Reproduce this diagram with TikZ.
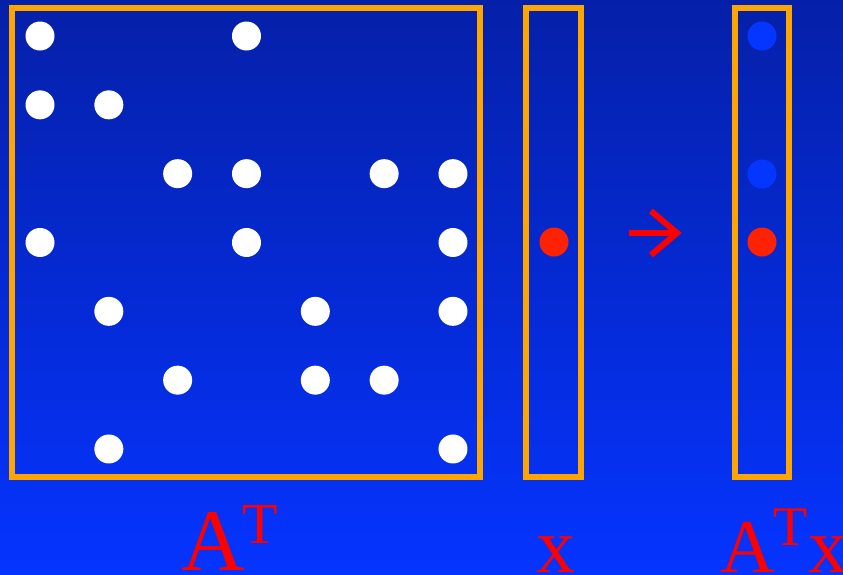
\documentclass[tikz,border=0pt]{standalone}
\usepackage{fontspec}
\setmainfont{Liberation Serif}
\definecolor{bgtop}{RGB}{5,32,168}
\definecolor{bgbot}{RGB}{5,52,255}
\definecolor{boxor}{RGB}{255,165,0}
\definecolor{dotred}{RGB}{255,34,0}
\definecolor{dotblue}{RGB}{5,54,255}
\definecolor{lblred}{RGB}{255,0,0}
\begin{document}
\begin{tikzpicture}[x=1pt,y=-1pt,
  frame/.style={draw=boxor,line width=6pt},
  wdot/.style={circle,fill=white,inner sep=0pt,minimum size=29pt},
  rdot/.style={circle,fill=dotred,inner sep=0pt,minimum size=29pt},
  bdot/.style={circle,fill=dotblue,inner sep=0pt,minimum size=29pt},
  lbl/.style={text=lblred,inner sep=0pt,anchor=base west},
  arr/.style={draw=lblred,line width=6pt}]
\shade[top color=bgtop,bottom color=bgbot] (0,0) rectangle (843,574);
\useasboundingbox (0,0) rectangle (843,574);
% frames
\node[frame,minimum width=468pt,minimum height=469pt,inner sep=0pt] (AT) at (246,242.5) {};
\node[frame,minimum width=55pt,minimum height=469pt,inner sep=0pt] (X) at (553.5,242.5) {};
\node[frame,minimum width=54pt,minimum height=469pt,inner sep=0pt] (ATX) at (762,242.5) {};
% matrix dots
\foreach \r/\c in {1/1,1/4,2/1,2/2,3/3,3/4,3/6,3/7,4/1,4/4,4/7,5/2,5/5,5/7,6/3,6/5,6/6,7/2,7/7}
  \node[wdot] (m\r\c) at ({40+68.83*(\c-1)},{36+68.83*(\r-1)}) {};
% vector x
\node[rdot] (x4) at (554,242) {};
% result
\node[bdot] (y1) at (762,36) {};
\node[bdot] (y3) at (762,174) {};
\node[rdot] (y4) at (762,242) {};
% arrow
\coordinate (aS) at (629,233);
\coordinate (aE) at (677,233);
\coordinate (aU) at (651,211);
\coordinate (aD) at (651,255);
\draw[arr] (aS) -- (aE);
\draw[arr,line join=miter] (aU) -- (aE) -- (aD);
% labels
\node[lbl,font=\fontsize{88}{88}\selectfont] (lA) at (181,570) {A};
\node[lbl,font=\fontsize{58}{58}\selectfont] (lT) at (242,543) {T};
\node[lbl,font=\fontsize{78}{78}\selectfont] (lx) at (536,572) {x};
\node[lbl,font=\fontsize{76}{76}\selectfont] (rA) at (720,572) {A};
\node[lbl,font=\fontsize{56}{56}\selectfont] (rT) at (773,545) {T};
\node[lbl,font=\fontsize{78}{78}\selectfont] (rx) at (808,572) {x};
\end{tikzpicture}
\end{document}
